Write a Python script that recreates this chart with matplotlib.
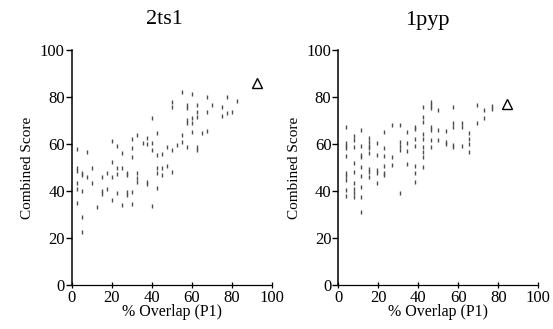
import matplotlib
matplotlib.use("Agg")
import matplotlib.pyplot as plt

# 2ts1 panel
x_2ts1 = [2.8, 7.5, 2.8, 2.8, 5, 5, 7.5, 10, 2.8, 10, 2.8, 5, 2.8, 5, 5, 12.5,
          15, 15, 15, 17.5, 17.5, 20, 20, 20, 20, 22.5, 22.5, 22.5, 22.5, 25, 25, 25,
          27.5, 27.5, 27.5, 27.5, 30, 30, 30, 30, 30, 32.8, 32.8, 32.8, 32.8, 35.5,
          37.8, 37.8, 37.8, 37.8, 40.2, 40.2, 40.2, 40.2, 42.5, 42.5, 42.5, 42.5, 42.5,
          45, 45, 45, 47.5, 47.5, 50, 50, 50, 50, 52.5, 55, 55, 55, 57.5, 57.5, 57.5,
          57.5, 57.5, 60, 60, 60, 60.3, 62.5, 62.5, 62.5, 62.5, 62.5, 65, 67.5, 67.5,
          67.5, 70, 75, 75, 77.5, 77.5, 80, 82.5]
y_2ts1 = [57.7, 56.7, 50, 48.7, 47.8, 46.8, 46.1, 50, 43.5, 43.3, 40.7, 40, 34.8, 28.8, 22.6, 33.3,
          46.1, 40.1, 38.7, 47.5, 41, 61.4, 52.2, 46.1, 36.2, 59.1, 49.6, 47.1, 39, 56, 49.6, 34,
          47.5, 46.8, 39.5, 38.5, 62, 58.2, 54.6, 39.7, 34.3, 63.8, 47.8, 45.4, 44, 60.3,
          62.7, 60, 44, 43, 70.9, 60.6, 57.4, 33.8, 64.5, 55.3, 41.1, 49.6, 47.5,
          55.7, 49.6, 46.8, 58.9, 50.6, 57.4, 48.2, 78, 75.9, 59.6, 82.3, 63.8, 61, 76.6, 75.2, 70.2,
          69.1, 58.9, 81.3, 70.9, 69.1, 65.2, 76.6, 73.8, 71.3, 58.9, 57.4, 64.5, 79.9, 73.8,
          65.7, 76.6, 75.6, 72, 80.1, 73, 73.8, 78.3]
tri_2ts1 = (92.5, 86.1)

# 1pyp panel
x_1pyp = ([3.8] * 10 + [7.8] * 9 + [11.3] * 9 + [15.3] * 8 + [19.2] * 5 + [23] * 6
          + [27] * 3 + [30.8] * 5 + [34.5] * 4 + [38.3] * 7 + [42.2] * 9 + [46.2] * 7
          + [49.7] * 3 + [53.7] * 3 + [57.5] * 5 + [61.7] * 3 + [65.5] * 4 + [69.2] * 2
          + [73] * 2 + [76.7] * 2)
y_1pyp = [67.4, 60.3, 59.1, 58.2, 54.9, 47.5, 46.4, 44.7, 40.4, 37.9,
          63.5, 61.7, 58.9, 51.8, 48.2, 43.3, 40.7, 39, 37.6,
          66, 59.1, 55.3, 54.3, 50.4, 46.4, 41.8, 37.6, 31.2,
          62.4, 61, 59.1, 58.2, 56, 49.2, 48.2, 45.8,
          60.3, 55.3, 48.9, 47.5, 43.3,
          65.2, 58.2, 54.9, 50.6, 47.8, 46.8,
          68.1, 54.6, 51.1,
          68.1, 61, 59.1, 57.4, 39.3,
          65.2, 60.6, 57, 51.6,
          67.4, 66.2, 62, 59.1, 50.6, 47.5, 44,
          75.9, 71.3, 69.5, 64.3, 62, 58.6, 56.7, 54.3, 50.4,
          78, 76.6, 75.2, 67.1, 66, 61.7, 58.9,
          74.5, 66, 61.7,
          65.7, 61, 60,
          75.9, 69.1, 67.1, 59.6, 58.6,
          69.1, 67.1, 59.1,
          64.5, 62, 60, 56.7,
          76.6, 68.8,
          74.5, 70.9,
          76.2, 74.8]
tri_1pyp = (84.5, 76.9)

titles = ["2ts1", "1pyp"]
ticks = [0, 20, 40, 60, 80, 100]

plt.rcParams["font.family"] = "Liberation Serif"

fig = plt.figure(figsize=(5.53, 3.29), dpi=100)
ax1 = fig.add_axes([0.1297, 0.1337, 0.3617, 0.7143])
ax2 = fig.add_axes([0.6118, 0.1337, 0.3617, 0.7143])

panels = [(ax1, x_2ts1, y_2ts1, tri_2ts1), (ax2, x_1pyp, y_1pyp, tri_1pyp)]
for ax, xs, ys, tri in panels:
    ax.plot(xs, ys, linestyle="none", marker="|", markersize=2.6,
            markeredgewidth=1.0, color="0.3")
    ax.plot([tri[0]], [tri[1]], linestyle="none", marker="^", markersize=6.5,
            markerfacecolor="white", markeredgecolor="black", markeredgewidth=1.0)
    ax.set_xlim(0, 100)
    ax.set_ylim(0, 100)
    ax.set_xticks(ticks)
    ax.set_yticks(ticks)
    ax.spines["top"].set_visible(False)
    ax.spines["right"].set_visible(False)
    ax.spines["left"].set_linewidth(1.1)
    ax.spines["bottom"].set_linewidth(0.9)
    ax.tick_params(axis="x", direction="inout", length=5, width=0.9,
                   labelsize=12, pad=1)
    ax.tick_params(axis="y", direction="out", length=4, width=1.0,
                   labelsize=12, pad=1)
    ax.set_xlabel("% Overlap (P1)", fontsize=11.5, labelpad=-1)
    ax.set_ylabel("Combined Score", fontsize=11, labelpad=4)

fig.text(164 / 553, 1 - 20 / 329, titles[0], ha="center", va="center", fontsize=16)
fig.text(427 / 553, 1 - 20 / 329, titles[1], ha="center", va="center", fontsize=16)

fig.savefig("out.png", dpi=100)
